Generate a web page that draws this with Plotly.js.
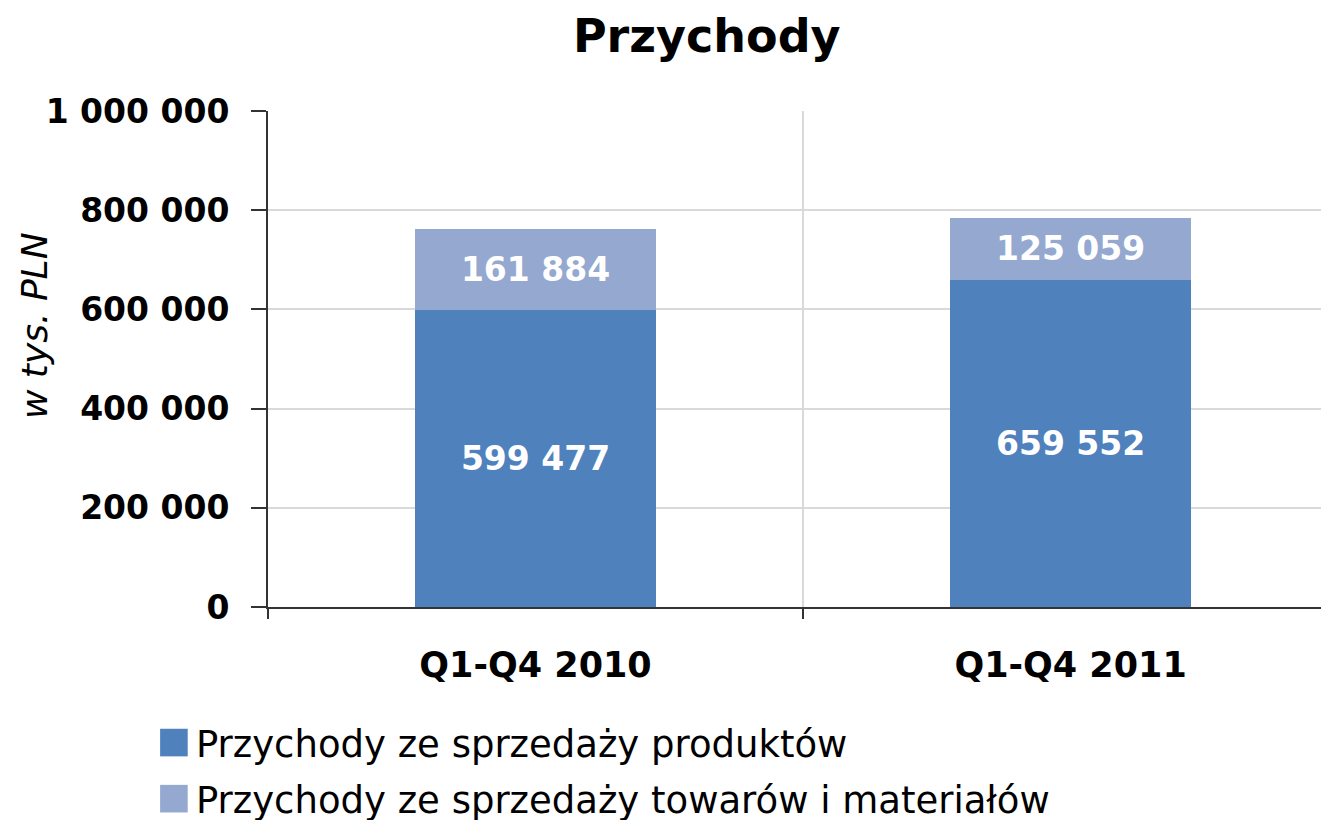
<!DOCTYPE html>
<html>
<head>
<meta charset="utf-8">
<script src="https://cdn.plot.ly/plotly-3.0.1.min.js"></script>
<style>
html,body{margin:0;padding:0;background:#fff;}
#chart{width:1321px;height:820px;}
.legend .legendpoints path{transform:translate(22px,0) scale(2.3);}
</style>
</head>
<body>
<div id="chart"></div>
<script>
var categories = ["Q1-Q4 2010", "Q1-Q4 2011"];
var seriesNames = ["Przychody ze sprzedaży produktów", "Przychody ze sprzedaży towarów i materiałów"];
var produkty = [599477, 659552];
var towary = [161884, 125059];
var yTicks = [0, 200000, 400000, 600000, 800000, 1000000];
var yTitle = "w tys. PLN";

var FONT = "DejaVu Sans";
var labelFont = {family: FONT, size: 33, color: "#ffffff", weight: "bold"};

var traces = [
  {type: "bar", name: seriesNames[0], x: categories, y: produkty,
   marker: {color: "#4F81BD"}, width: 0.45, legendgroup: "a",
   texttemplate: "%{y:,.0f}", textposition: "inside", insidetextanchor: "middle", textangle: 0,
   textfont: labelFont, hoverinfo: "none"},
  {type: "bar", name: seriesNames[1], x: categories, y: towary,
   marker: {color: "#94A8D0"}, width: 0.45, legendgroup: "b",
   texttemplate: "%{y:,.0f}", textposition: "inside", insidetextanchor: "middle", textangle: 0,
   textfont: labelFont, hoverinfo: "none"}
];

var layout = {
  width: 1321, height: 820,
  margin: {l: 268, r: 0, t: 111, b: 213, autoexpand: false},
  paper_bgcolor: "#ffffff", plot_bgcolor: "#ffffff",
  separators: ", ",
  barmode: "stack",
  showlegend: true,
  title: {text: "Przychody", font: {family: FONT, size: 46, color: "#000000", weight: "bold"},
          x: 0.535, xanchor: "center", y: 0.956, yanchor: "middle"},
  xaxis: {
    type: "category", range: [-0.5, 1.468], fixedrange: true, tickangle: 0,
    tickson: "boundaries", ticks: "outside", ticklen: 10, tickwidth: 2, tickcolor: "#333333",
    showgrid: true, gridcolor: "#D9D9D9", gridwidth: 2,
    showline: true, linecolor: "#333333", linewidth: 2,
    tickfont: {family: FONT, size: 35, color: "#000000", weight: "bold"},
    ticklabelstandoff: 26
  },
  yaxis: {
    range: [0, 1000000], fixedrange: true,
    tickvals: yTicks, tickformat: ",.0f",
    ticks: "outside", ticklen: 15, tickwidth: 2, tickcolor: "#333333",
    showgrid: true, gridcolor: "#D9D9D9", gridwidth: 2,
    showline: true, linecolor: "#333333", linewidth: 2, zeroline: false,
    tickfont: {family: FONT, size: 33, color: "#000000", weight: "bold"},
    ticklabelstandoff: 15
  },
  annotations: [{
    text: yTitle, textangle: -90, showarrow: false,
    xref: "paper", yref: "paper", x: -0.2222, y: 0.5665, xanchor: "center", yanchor: "middle",
    font: {family: FONT, size: 36, color: "#000000", style: "italic"}
  }],
  legend: {
    orientation: "v", traceorder: "grouped", tracegroupgap: 5,
    xref: "container", yref: "container", x: 0.115, xanchor: "left", y: 0.1317, yanchor: "top",
    font: {family: FONT, size: 37, color: "#000000"},
    itemwidth: 34, bgcolor: "rgba(0,0,0,0)", borderwidth: 0
  }
};

Plotly.newPlot("chart", traces, layout, {displayModeBar: false, staticPlot: true});
</script>
</body>
</html>
